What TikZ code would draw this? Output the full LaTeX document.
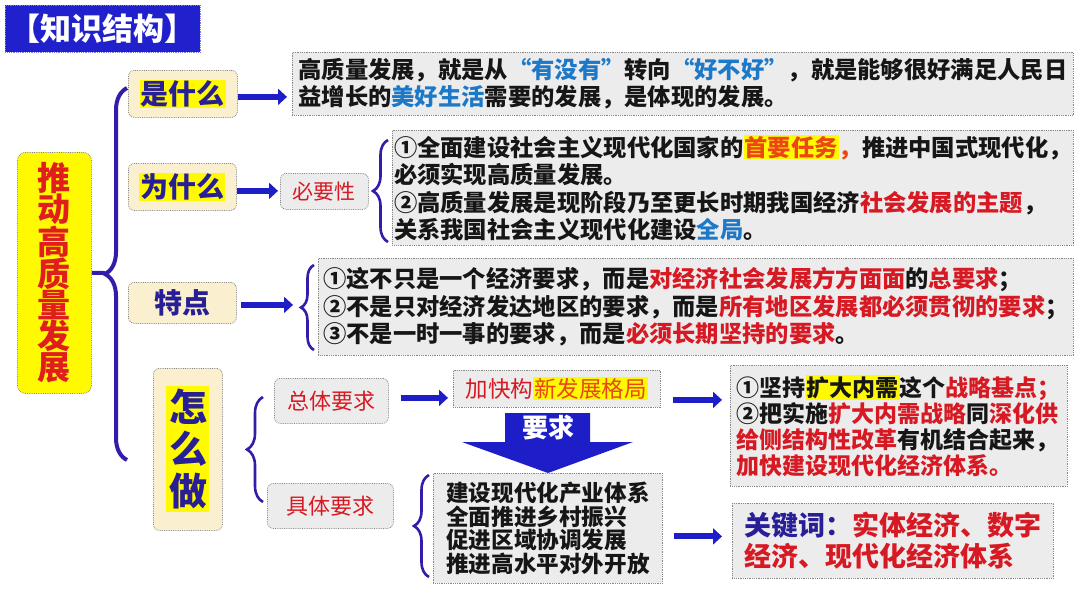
\documentclass[tikz,border=0pt]{standalone}
\usepackage{fontspec}
\setmainfont{Noto Sans CJK SC}
\usetikzlibrary{arrows.meta,decorations.pathreplacing}
\definecolor{titleblue}{RGB}{32,32,205}
\definecolor{arblue}{RGB}{30,30,200}
\definecolor{brcblue}{RGB}{52,28,170}
\definecolor{navytext}{RGB}{40,30,150}
\definecolor{mainred}{RGB}{225,30,30}
\definecolor{hred}{RGB}{215,25,35}
\definecolor{orred}{RGB}{235,70,20}
\definecolor{qblue}{RGB}{30,120,200}
\definecolor{hlyellow}{RGB}{255,250,0}
\definecolor{cream}{RGB}{250,240,208}
\definecolor{boxgray}{RGB}{236,236,236}
\definecolor{framegray}{RGB}{135,135,135}
\definecolor{ink}{RGB}{22,22,22}

\newcommand{\fsz}[2]{\fontsize{#1}{#2}\selectfont}
\newcommand{\hl}[1]{{\setlength{\fboxsep}{1pt}\colorbox{hlyellow}{#1}}}
\newcommand{\rd}[1]{\textcolor{hred}{#1}}
\newcommand{\bl}[1]{\textcolor{qblue}{#1}}

\begin{document}
\begin{tikzpicture}[
  x=1pt, y=-1pt,
  box/.style={draw=framegray, densely dotted, line width=0.8pt, fill=boxgray,
              inner sep=0pt, anchor=north west, align=left, text=ink,
              font=\bfseries\fsz{23.3}{27.5}},
  cream/.style={box, fill=cream, rounded corners=6pt, align=center,
                text=navytext, font=\bfseries\fsz{28}{32}},
  tag/.style={box, rounded corners=6pt, align=center, text=hred, font=\fsz{22}{26}},
  ar/.style={-{Triangle[length=9pt,width=16pt]}, draw=arblue, line width=6pt},
  brc/.style={decorate, decoration={brace, amplitude=#1}, draw=brcblue, line width=2.6pt},
]
\path[use as bounding box, fill=white] (0,0) rectangle (1080,608);

\node[box, fill=titleblue, draw=titleblue!60, text=white, align=center,
      minimum width=195, minimum height=47, font=\bfseries\fsz{31}{34}] (title) at (5,5) {【知识结构】};

% left column
\node[box, fill=hlyellow, rounded corners=8pt, align=center, text=mainred,
      minimum width=74, minimum height=241, font=\bfseries\fsz{33}{31}] (main) at (17,152)
  {推\\动\\高\\质\\量\\发\\展};

\node[cream, minimum width=109, minimum height=47] (shi) at (128,70) {\hl{是什么}};
\node[cream, minimum width=108, minimum height=47] (wei) at (128,163) {\hl{为什么}};
\node[cream, minimum width=108, minimum height=41] (te)  at (128,282) {特点};
\node[cream, minimum width=69, minimum height=162, font=\bfseries\fsz{38}{42}] (zen) at (153,368)
  {\colorbox{hlyellow}{\parbox{37pt}{\centering 怎\\么\\做}}};

\coordinate (bigtip) at (105,273);
\draw[brc=22, line width=4pt] (127,460) -- (127,88);
\draw[draw=brcblue, line width=4pt] (main) -- (bigtip);

% what
\node[box, minimum width=781, minimum height=63] (a1) at (292,52)
  {高质量发展，就是从\bl{“有没有”}转向\bl{“好不好”}，就是能够很好满足人民日\\
   益增长的\bl{美好生活}需要的发展，是体现的发展。};

% why
\node[tag, minimum width=88, minimum height=36, font=\fsz{21}{25}] (biyao) at (280,173) {必要性};
\node[box, minimum width=681, minimum height=115] (a2) at (392,130)
  {①全面建设社会主义现代化国家的\hl{\textcolor{orred}{首要任务}}\textcolor{orred}{，}推进中国式现代化，\\
   必须实现高质量发展。\\
   ②高质量发展是现阶段乃至更长时期我国经济\rd{社会发展的主题}，\\
   关系我国社会主义现代化建设\bl{全局}。};
\draw[brc=15] (388,242) -- (388,140);

% features
\node[box, minimum width=755, minimum height=97] (a3) at (318,258)
  {①这不只是一个经济要求，而是\rd{对经济社会发展方方面面}的\rd{总要求}；\\
   ②不是只对经济发达地区的要求，而是\rd{所有地区发展都必须贯彻的要求}；\\
   ③不是一时一事的要求，而是\rd{必须长期坚持的要求}。};
\draw[brc=13] (314,350) -- (314,265);

% how
\node[tag, minimum width=114, minimum height=45] (zong) at (274,378) {总体要求};
\node[tag, minimum width=126, minimum height=45] (ju)   at (267,483) {具体要求};
\draw[brc=16] (263,502) -- (263,397);

\node[box, minimum width=207, minimum height=37, align=center, text=hred,
      font=\fsz{22.5}{26}] (xin) at (453,370) {加快构\hl{\textcolor{orred}{新发展格局}}};

\fill[arblue] (505,413) -- (590,413) -- (590,442) -- (633,442) -- (548,473)
  -- (462,442) -- (505,442) -- cycle;
\node[text=white, font=\bfseries\fsz{26}{28}] (yaoqiu) at (548,428) {要求};

\node[box, minimum width=229, minimum height=110, font=\bfseries\fsz{22.6}{23.5}] (zt) at (433,473)
  {建设现代化产业体系\\全面推进乡村振兴\\促进区域协调发展\\推进高水平对外开放};
\draw[brc=15] (429,577) -- (429,475);

\node[box, minimum width=337, minimum height=121, font=\bfseries\fsz{23}{26}] (r1) at (730,365)
  {①坚持\hl{扩大内需}这个\rd{战略基点；}\\
   ②把实施\rd{扩大内需战略}同\rd{深化供}\\
   \rd{给侧结构性改革}有机结合起来，\\
   \rd{加快建设现代化经济体系。}};

\node[box, minimum width=321, minimum height=75, font=\bfseries\fsz{27}{31}] (kw) at (732,503)
  {\textcolor{navytext}{关键词：}\rd{实体经济、数字}\\
   \rd{经济、现代化经济体系}};

% arrows
\draw[ar, shorten >=5pt] ([yshift=-3pt]shi.east) -- ([yshift=-3pt]shi.east -| a1.west);
\draw[ar, shorten >=2pt] ([yshift=-4pt]wei.east) -- ([yshift=-4pt]wei.east -| biyao.west);
\draw[ar, shorten <=4pt, shorten >=25pt] ([yshift=-2pt]te.east) -- ([yshift=-2pt]te.east -| a3.west);
\draw[ar, shorten <=12pt, shorten >=5pt] ([yshift=3pt]zong.east) -- ([yshift=3pt]zong.east -| xin.west);
\draw[ar, shorten <=12pt, shorten >=8pt] ([yshift=-11pt]xin.east) -- ([yshift=-11pt]xin.east -| r1.west);
\draw[ar, shorten <=11pt, shorten >=10pt] ([yshift=-8pt]zt.east) -- ([yshift=-8pt]zt.east -| kw.west);
\end{tikzpicture}
\end{document}
